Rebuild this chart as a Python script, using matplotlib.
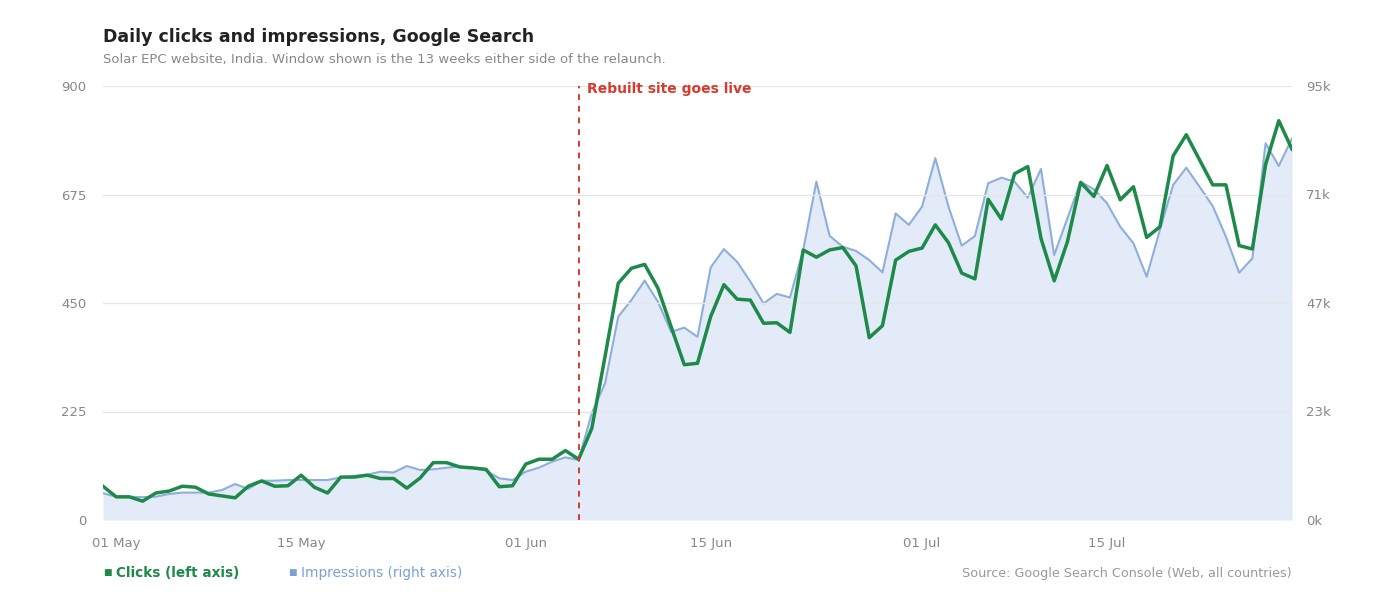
import matplotlib.pyplot as plt
import matplotlib.dates as mdates
import pandas as pd

dates = pd.date_range("2024-04-30", periods=91, freq="D")
relaunch = pd.Timestamp("2024-06-05")

clicks = [70, 48, 48, 39, 56, 60, 70, 68, 54, 50, 46, 70, 81, 70, 71, 93, 68, 56, 89, 89,
          93, 86, 86, 66, 87, 119, 119, 110, 108, 105, 69, 71, 116, 126, 126, 144, 126,
          190, 339, 491, 522, 530, 481, 401, 322, 325, 422, 488, 458, 456, 408, 409, 389,
          560, 545, 560, 565, 527, 378, 403, 539, 557, 564, 612, 575, 512, 500, 665, 624,
          718, 733, 584, 496, 577, 700, 671, 735, 664, 691, 586, 608, 755, 799, 747, 695,
          695, 569, 562, 737, 828, 769]

impressions = [5850, 5100, 5100, 5000, 5100, 5700, 6000, 6000, 6000, 6550, 7870, 6800, 8600,
               8600, 8750, 8750, 8750, 8750, 9340, 9630, 9900, 10580, 10400, 11820, 10950,
               11100, 11460, 11700, 11380, 10800, 9120, 8750, 10580, 11460, 12770, 13720,
               13130, 23400, 29900, 44500, 48160, 52400, 47800, 41200, 42100, 40100, 55300,
               59300, 56500, 52200, 47400, 49500, 48700, 59100, 74060, 62200, 59800, 58900,
               56900, 54200, 67100, 64600, 68600, 79200, 68580, 60050, 62170, 73700, 74930,
               74060, 70550, 76830, 58000, 66040, 74060, 72390, 69330, 64200, 60570, 53260,
               63480, 73330, 77120, 72960, 68730, 62000, 54130, 57280, 82460, 77490, 83550]

left_ticks = [0, 225, 450, 675, 900]
right_ticks = [0, 23750, 47500, 71250, 95000]
right_labels = ["0k", "23k", "47k", "71k", "95k"]

green = "#1e8a4a"
blue_line = "#8eaedc"
blue_fill = "#e3ebf9"
grey = "#888888"
red = "#d63b30"

fig = plt.figure(figsize=(14, 5.95), dpi=100)
ax = fig.add_axes([103 / 1400, 75 / 595, 1189 / 1400, 434 / 595])
ax2 = ax.twinx()

ax2.fill_between(dates, impressions, 0, color=blue_fill, lw=0)
ax2.plot(dates, impressions, color=blue_line, lw=1.5)
ax2.set_ylim(0, 95000)
ax2.set_yticks(right_ticks, right_labels)

ax.set_zorder(ax2.get_zorder() + 1)
ax.patch.set_visible(False)
ax.plot(dates, clicks, color=green, lw=2.5)
ax.set_ylim(0, 900)
ax.set_yticks(left_ticks)
ax.set_xlim(dates[0], dates[-1])
ax.grid(axis="y", color="#e6e6e6", lw=1)
ax2.grid(False)
ax.axvline(relaunch, color=red, ls=(0, (3, 3)), lw=1.4)
ax.text(relaunch + pd.Timedelta(hours=16), 893, "Rebuilt site goes live", color=red,
        fontsize=10, fontweight="bold", va="center")

ax.xaxis.set_major_locator(mdates.DayLocator(bymonthday=[1, 15]))
ax.xaxis.set_major_formatter(mdates.DateFormatter("%d %b"))

for a in (ax, ax2):
    for s in a.spines.values():
        s.set_visible(False)
    a.tick_params(length=0, colors=grey, labelsize=9.5)
ax.tick_params(axis="y", pad=12)
ax.tick_params(axis="x", pad=12)
ax2.tick_params(axis="y", pad=10)

fig.text(103 / 1400, 1 - 37 / 595, "Daily clicks and impressions, Google Search",
         fontsize=12.5, fontweight="bold", color="#222222", va="center")
fig.text(103 / 1400, 1 - 60 / 595,
         "Solar EPC website, India. Window shown is the 13 weeks either side of the relaunch.",
         fontsize=9.5, color=grey, va="center")
fig.text(103 / 1400, 1 - 573 / 595, "■", color=green, fontsize=6.5, va="center")
fig.text(116 / 1400, 1 - 573 / 595, "Clicks (left axis)", color=green,
         fontsize=9.8, fontweight="bold", va="center")
fig.text(288 / 1400, 1 - 573 / 595, "■", color="#7aa0d8", fontsize=6.5, va="center")
fig.text(301 / 1400, 1 - 573 / 595, "Impressions (right axis)", color="#7aa0d8",
         fontsize=9.8, va="center")
fig.text(1292 / 1400, 1 - 573 / 595, "Source: Google Search Console (Web, all countries)",
         color="#999999", fontsize=9.2, ha="right", va="center")

fig.savefig("out.png")
